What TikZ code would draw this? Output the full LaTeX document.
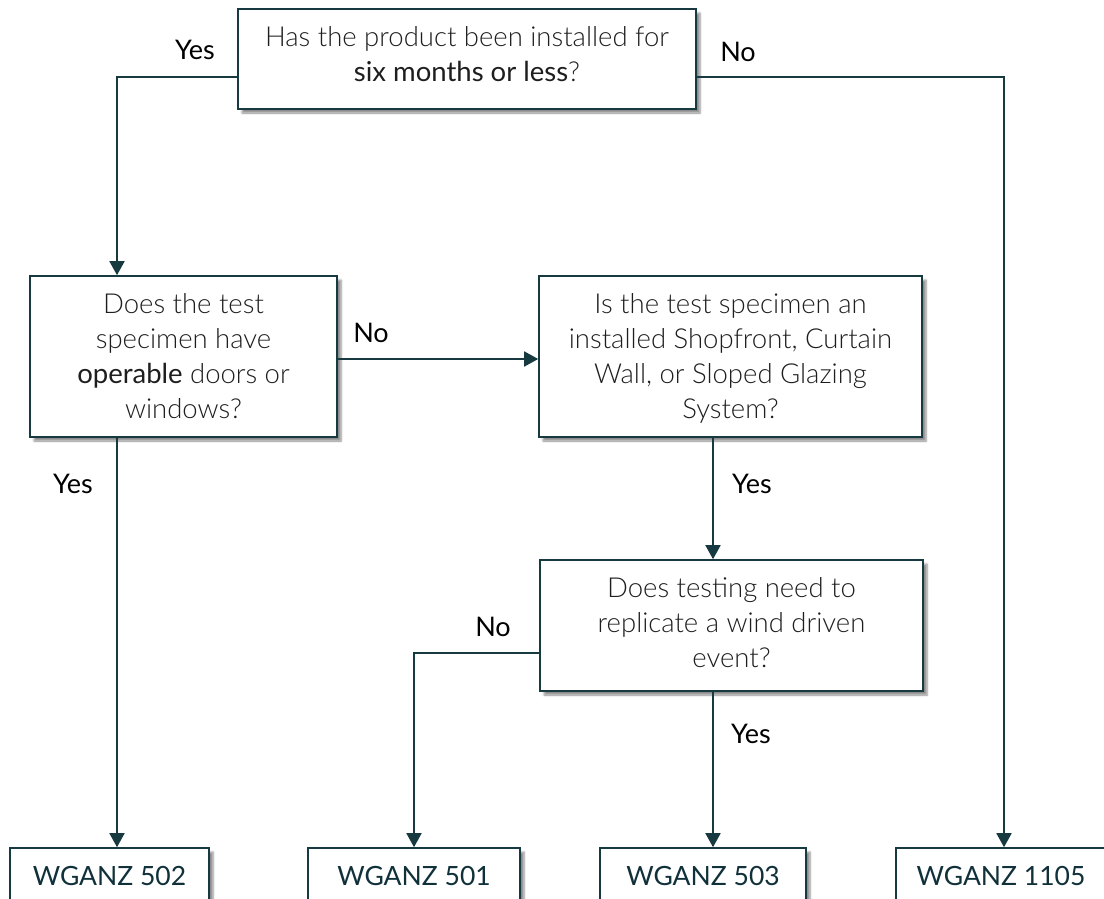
\documentclass[tikz,border=0pt]{standalone}
\usepackage{fontspec}
\setmainfont{Lato Light}[BoldFont={Lato}]
\usetikzlibrary{arrows.meta,shadows.blur,calc}
\definecolor{linec}{HTML}{173A40}
\definecolor{txtc}{HTML}{1E1E1E}
\definecolor{codec}{HTML}{10303A}
\tikzset{
  qbox/.style={draw=linec, line width=1.6pt, fill=white, align=center, inner sep=0pt,
    text=txtc, font=\fontsize{27.5}{35}\selectfont,
    blur shadow={shadow xshift=4pt, shadow yshift=-4pt, shadow blur steps=6, shadow opacity=45}},
  rbox/.style={qbox, text=codec, font=\fontsize{26.5}{33}\selectfont\bfseries, minimum height=56pt},
  arr/.style={draw=linec, line width=1.8pt, -{Triangle[width=15pt,length=14pt]}},
  lbl/.style={text=black, font=\fontsize{27}{30}\selectfont\bfseries, inner sep=0pt}
}
\begin{document}
\begin{tikzpicture}[x=1pt,y=-1pt]
\useasboundingbox (0,0) rectangle (1104,899);
\clip (0,0) rectangle (1104,899);
% question boxes
\node[qbox, minimum width=458pt, minimum height=100pt, text depth=10pt] (q1) at (467,59)
  {Has the product been installed for\\\textbf{six months or less}?};
\node[qbox, minimum width=307pt, minimum height=161pt] (q2) at (183.5,356.5)
  {Does the test\\specimen have\\\textbf{operable} doors or\\windows?};
\node[qbox, minimum width=383pt, minimum height=161pt, text depth=2pt] (q3) at (730.5,356.5)
  {Is the test specimen an\\installed Shopfront, Curtain\\Wall, or Sloped Glazing\\System?};
\node[qbox, minimum width=383pt, minimum height=131pt, text depth=6pt] (q4) at (731.5,625.5)
  {Does testing need to\\replicate a wind driven\\event?};
% result boxes
\node[rbox, minimum width=199pt] (r502) at (109.5,876) {WGANZ 502};
\node[rbox, minimum width=212pt] (r501) at (414,876) {WGANZ 501};
\node[rbox, minimum width=206pt] (r503) at (703,876) {WGANZ 503};
\node[rbox, minimum width=210pt] (r1105) at (1001,876) {WGANZ 1105};
% helper coordinates
\coordinate (xl) at (117,0);
\coordinate (xr) at (1004,0);
\coordinate (xm) at (713,0);
\coordinate (x501) at (414,0);
% connectors
\draw[arr] ($(q1.west)+(0,18)$) -| (xl |- q2.north);
\draw[arr] ($(q1.east)+(0,18)$) -| (xr |- r1105.north);
\draw[arr] ($(q2.east)+(0,2.5)$) -- ($(q3.west)+(0,2.5)$);
\draw[arr] (xl |- q2.south) -- (xl |- r502.north);
\draw[arr] (xm |- q3.south) -- (xm |- q4.north);
\draw[arr] ($(q4.west)+(0,27.5)$) -| (x501 |- r501.north);
\draw[arr] (xm |- q4.south) -- (xm |- r503.north);
% labels
\node[lbl] (l1) at (195,50) {Yes};
\node[lbl] (l2) at (738,52) {No};
\node[lbl] (l3) at (371,333) {No};
\node[lbl] (l4) at (73,484) {Yes};
\node[lbl] (l5) at (752,484) {Yes};
\node[lbl] (l6) at (493,627) {No};
\node[lbl] (l7) at (751,734) {Yes};
\end{tikzpicture}
\end{document}
